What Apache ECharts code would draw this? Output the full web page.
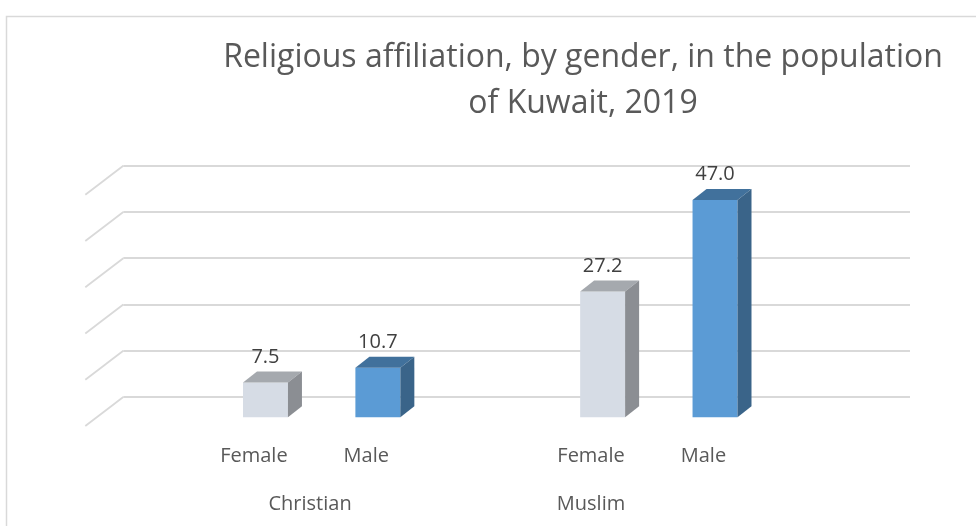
<!DOCTYPE html>
<html>
<head>
<meta charset="utf-8">
<script src="https://cdn.jsdelivr.net/npm/echarts@6/dist/echarts.min.js"></script>
<style>
  html, body { margin: 0; padding: 0; background: #fff; }
  #chart { width: 976px; height: 526px; }
</style>
</head>
<body>
<div id="chart"></div>
<script>
// data
const groups = ["Christian", "Muslim"];
const genders = ["Female", "Male"];
const christianValues = [7.5, 10.7];
const muslimValues = [27.2, 47.0];
const yTicks = [0, 10, 20, 30, 40, 50];

const textFont = "'Open Sans', 'Liberation Sans', sans-serif";
const faceColors = [
  { front: "#d6dce5", top: "#a5a9ae", side: "#8b8e93" },
  { front: "#5b9bd5", top: "#41719c", side: "#3a6489" },
];

// 3d look: floor depth and bar offsets (px)
const floorDx = -38, floorDy = 29;
const frontDx = -26.4, frontDy = 20.3;
const depthDx = 14, depthDy = -11;

// slots: blank, Female, Male, blank, Female, Male, blank
const slots = [""];
const barData = [];
const labelData = [];
[christianValues, muslimValues].forEach(function (vals, g) {
  vals.forEach(function (v, i) {
    const idx = slots.length;
    slots.push(genders[i]);
    barData.push([idx, v, i]);
    labelData.push([idx, 0, i]);
  });
  slots.push("");
});
// where the group captions sit (in slot units)
const groupAnchors = [1.5, 4];

const myChart = echarts.init(document.getElementById("chart"));

function renderBar(params, api) {
  const idx = api.value(0), val = api.value(1), g = api.value(2);
  const base = api.coord([idx, 0]);
  const top = api.coord([idx, val]);
  const bw = api.size([1, 0])[0] * 0.4;
  const xl = base[0] + frontDx - bw / 2, xr = xl + bw;
  const yt = top[1] + frontDy, yb = base[1] + frontDy;
  const c = faceColors[g];
  return {
    type: "group",
    children: [
      { type: "rect", shape: { x: xl, y: yt, width: bw, height: yb - yt }, style: { fill: c.front } },
      { type: "polygon", shape: { points: [[xl, yt], [xl + depthDx, yt + depthDy], [xr + depthDx, yt + depthDy], [xr, yt]] }, style: { fill: c.top } },
      { type: "polygon", shape: { points: [[xr, yt], [xr + depthDx, yt + depthDy], [xr + depthDx, yb + depthDy], [xr, yb]] }, style: { fill: c.side } },
      {
        type: "text",
        style: {
          text: val.toFixed(1), x: (xl + xr) / 2, y: yt - 25.6,
          align: "center", verticalAlign: "middle",
          font: "20px " + textFont, fill: "#404040",
        },
      },
    ],
  };
}

function renderDiagonal(params, api) {
  const p = api.coord([0, api.value(1)]);
  const x0 = params.coordSys.x;
  return {
    type: "line",
    shape: { x1: x0, y1: p[1], x2: x0 + floorDx, y2: p[1] + floorDy },
    style: { stroke: "#d9d9d9", lineWidth: 1.8 },
  };
}

function renderGender(params, api) {
  const p = api.coord([api.value(0), 0]);
  return {
    type: "text",
    style: {
      text: genders[api.value(2)], x: p[0] + floorDx, y: p[1] + floorDy + 30.7,
      align: "center", verticalAlign: "middle",
      font: "20px " + textFont, fill: "#595959",
    },
  };
}

function renderGroup(params, api) {
  const a = groupAnchors[params.dataIndex];
  const p0 = api.coord([Math.floor(a), 0]);
  const p1 = api.coord([Math.ceil(a), 0]);
  const x = p0[0] + (p1[0] - p0[0]) * (a - Math.floor(a));
  return {
    type: "text",
    style: {
      text: groups[params.dataIndex], x: x + floorDx, y: p0[1] + floorDy + 78,
      align: "center", verticalAlign: "middle",
      font: "20px " + textFont, fill: "#595959",
    },
  };
}

const option = {
  animation: false,
  graphic: [
    {
      type: "rect", left: 4, top: 14, silent: true,
      shape: { x: 0, y: 0, width: 1000, height: 600 },
      style: { fill: "none", stroke: "#d9d9d9", lineWidth: 1.5 },
    },
    {
      type: "text", x: 583, y: 35,
      style: {
        text: "Religious affiliation, by gender, in the population\nof Kuwait, 2019",
        align: "center", verticalAlign: "top", lineHeight: 46,
        font: "32px " + textFont, fill: "#595959",
      },
    },
  ],
  grid: { left: 123.3, right: 66, top: 165.7, bottom: 129 },
  xAxis: {
    type: "category",
    data: slots,
    axisLine: { show: false },
    axisTick: { show: false },
    axisLabel: { show: false },
  },
  yAxis: {
    type: "value",
    min: 0,
    max: 50,
    interval: 10,
    axisLabel: { show: false },
    axisLine: { show: false },
    splitLine: { lineStyle: { color: "#d9d9d9", width: 1.8 } },
  },
  series: [
    { type: "custom", clip: false, renderItem: renderDiagonal, data: yTicks.map(function (t) { return [0, t]; }), z: 1 },
    { type: "custom", clip: false, renderItem: renderBar, data: barData, z: 3 },
    { type: "custom", clip: false, renderItem: renderGender, data: labelData, z: 3 },
    { type: "custom", clip: false, renderItem: renderGroup, data: groupAnchors.map(function () { return [0, 0]; }), z: 3 },
  ],
};

myChart.setOption(option);
</script>
</body>
</html>
